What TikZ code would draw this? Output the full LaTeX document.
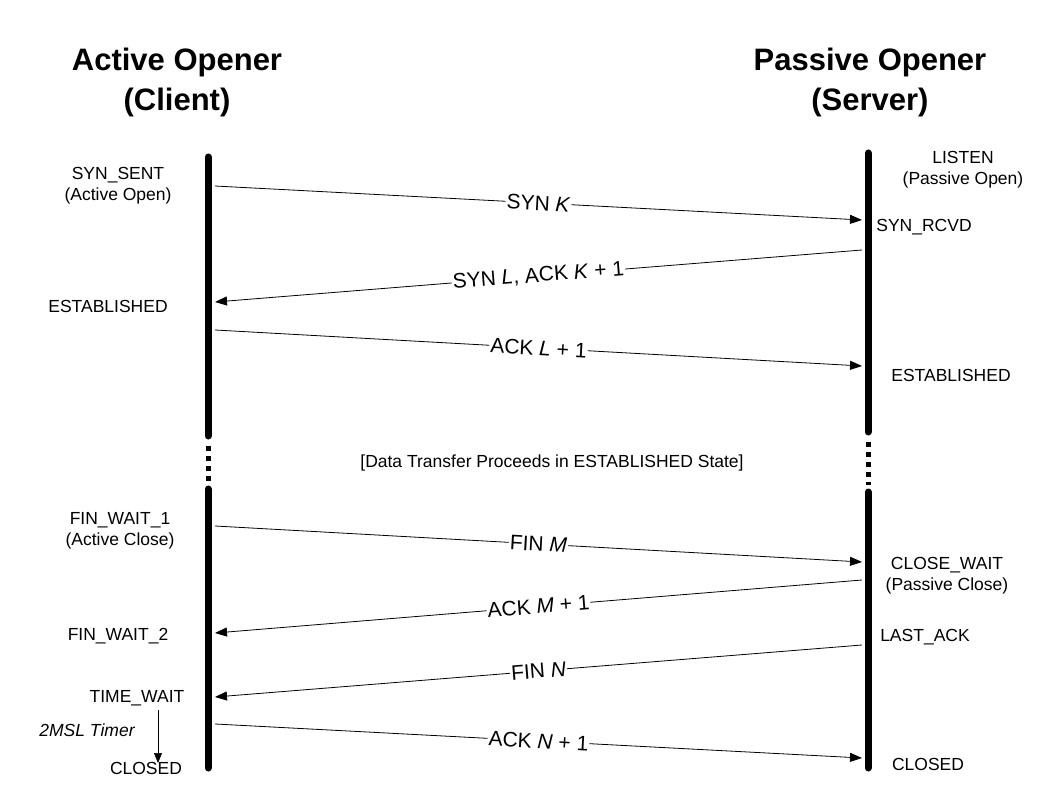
\documentclass[tikz,border=0pt]{standalone}
\usepackage{fontspec}
\setmainfont{Liberation Sans}
\usetikzlibrary{arrows.meta}
\begin{document}
\begin{tikzpicture}[x=1pt,y=-1pt,
  life/.style={line width=7pt,line cap=round},
  dots/.style={line width=5pt,dash pattern=on 5pt off 5pt},
  msg/.style={line width=0.8pt,-{Triangle[length=12pt,width=9pt]}},
  lbl/.style={midway,sloped,fill=white,inner sep=1pt,font=\fontsize{21}{21}\selectfont},
  st/.style={font=\fontsize{17.5}{21}\selectfont,align=center,inner sep=0pt},
  ttl/.style={font=\bfseries\fontsize{31}{40}\selectfont,align=center,inner sep=0pt}]
\useasboundingbox (0,0) rectangle (1063,802);
\node[ttl] (tc) at (177,82) {Active Opener\\(Client)};
\node[ttl] (ts) at (870,82) {Passive Opener\\(Server)};
% lifelines
\coordinate (a1) at (208,157); \coordinate (a2) at (208,436);
\coordinate (a3) at (208,489); \coordinate (a4) at (208,768);
\coordinate (b1) at (868,153); \coordinate (b2) at (868,432);
\coordinate (b3) at (868,492); \coordinate (b4) at (868,768);
\draw[life] (a1) -- (a2); \draw[life] (a3) -- (a4);
\draw[life] (b1) -- (b2); \draw[life] (b3) -- (b4);
\draw[dots] (a2) ++(0,10) coordinate (ad1) -- (208,482);
\draw[dots] (b2) ++(0,10) coordinate (bd1) -- (868,485);
% states
\node[st] (s1) at (118,186) {SYN\_SENT\\(Active Open)};
\node[st] (s2) at (108,306) {ESTABLISHED};
\node[st] (s3) at (120,531) {FIN\_WAIT\_1\\(Active Close)};
\node[st] (s4) at (118,636) {FIN\_WAIT\_2};
\node[st] (s5) at (137,698) {TIME\_WAIT};
\node[st,font=\itshape\fontsize{17.5}{21}\selectfont] (s6) at (87,730) {2MSL Timer};
\node[st] (s7) at (146,768) {CLOSED};
\node[st] (r1) at (963,170) {LISTEN\\(Passive Open)};
\node[st] (r2) at (924,227) {SYN\_RCVD};
\node[st] (r3) at (951,375) {ESTABLISHED};
\node[st] (r4) at (947,576) {CLOSE\_WAIT\\(Passive Close)};
\node[st] (r5) at (925,637) {LAST\_ACK};
\node[st] (r6) at (928,764) {CLOSED};
\node[st] (dt) at (552,463) {[Data Transfer Proceeds in ESTABLISHED State]};
\draw[line width=0.6pt,-{Triangle[length=10pt,width=8pt]}] (s5.south -| 158,0) ++(0,4) coordinate (m1) -- (158,763);
% messages
\coordinate (p1) at (215,186); \coordinate (q1) at (862,220);
\coordinate (q2) at (862,250); \coordinate (p2) at (215,302);
\coordinate (p3) at (215,330); \coordinate (q3) at (862,366);
\coordinate (p4) at (215,526); \coordinate (q4) at (862,562);
\coordinate (q5) at (862,580); \coordinate (p5) at (215,633);
\coordinate (q6) at (862,645); \coordinate (p6) at (215,697);
\coordinate (p7) at (215,724); \coordinate (q7) at (862,758);
\draw[msg] (p1) -- node[lbl] {SYN \textit{K}} (q1);
\draw[msg] (q2) -- node[lbl] {SYN \textit{L}, ACK \textit{K} + 1} (p2);
\draw[msg] (p3) -- node[lbl] {ACK \textit{L} + 1} (q3);
\draw[msg] (p4) -- node[lbl] {FIN \textit{M}} (q4);
\draw[msg] (q5) -- node[lbl] {ACK \textit{M} + 1} (p5);
\draw[msg] (q6) -- node[lbl] {FIN \textit{N}} (p6);
\draw[msg] (p7) -- node[lbl] {ACK \textit{N} + 1} (q7);
\end{tikzpicture}
\end{document}
